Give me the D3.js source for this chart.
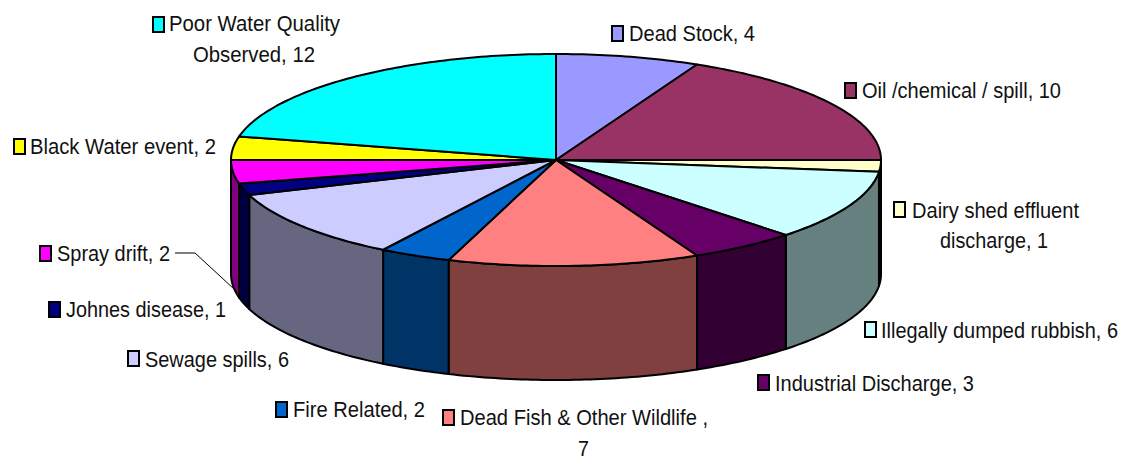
<!DOCTYPE html>
<html>
<head>
<meta charset="utf-8">
<script src="https://cdn.jsdelivr.net/npm/d3@7"></script>
<style>
  html, body { margin: 0; padding: 0; background: #fff; overflow: hidden; }
  text { font-family: "Liberation Sans", Arial, sans-serif; font-size: 22px; fill: #111; }
</style>
</head>
<body>
<div id="chart"></div>
<script>
var categories = ["Dead Stock", "Oil /chemical / spill", "Dairy shed effluent discharge",
  "Illegally dumped rubbish", "Industrial Discharge", "Dead Fish & Other Wildlife ",
  "Fire Related", "Sewage spills", "Johnes disease", "Spray drift", "Black Water event",
  "Poor Water Quality Observed"];
var values = [4, 10, 1, 6, 3, 7, 2, 6, 1, 2, 2, 12];
var topColors = ["#9999ff", "#993366", "#ffffcc", "#ccffff", "#660066", "#ff8080",
  "#0066cc", "#ccccff", "#000080", "#ff00ff", "#ffff00", "#00ffff"];
var sideColors = ["#4d4d80", "#4d1a33", "#808066", "#668080", "#330033", "#804040",
  "#003366", "#666680", "#000040", "#800080", "#808000", "#008080"];

// where each label goes: swatch left / top, then one entry per line [x, baseline, width]
var labelLayout = [
  { sx: 611, sy: 25, lines: [[629, 41, 126]] },
  { sx: 844, sy: 82, lines: [[862, 98, 199]] },
  { sx: 893, sy: 201, lines: [[912, 218, 167], [940, 248, 108]] },
  { sx: 864, sy: 321, lines: [[881, 338, 237]] },
  { sx: 757, sy: 374, lines: [[775, 391, 199]] },
  { sx: 442, sy: 409, lines: [[460, 425, 248], [578, 456, 11]] },
  { sx: 275, sy: 401, lines: [[293, 417, 132]] },
  { sx: 127, sy: 350, lines: [[145, 367, 144]] },
  { sx: 48, sy: 301, lines: [[66, 317, 160]] },
  { sx: 39, sy: 245, lines: [[57, 261, 113]] },
  { sx: 13, sy: 138, lines: [[30, 154, 186]] },
  { sx: 152, sy: 16, lines: [[169, 31, 171], [193, 62, 122]] }
];
// manual line breaks, same wrap as the original labels
var wrapAt = { 2: "Dairy shed effluent", 5: "Dead Fish & Other Wildlife ,", 11: "Poor Water Quality" };

function init() {
  var w = 1127;
  var h = 458;
  var cx = 556, cy = 160, rx = 325, ry = 106, depth = 114;

  var svg = d3.select("#chart")
      .append("svg")
      .attr("width", w)
      .attr("height", h)
      .style("display", "block");

  var pie = d3.pie().sort(null).value(function(d) { return d; });
  var slices = pie(values);

  function px(a) { return cx + rx * Math.sin(a); }
  function py(a) { return cy - ry * Math.cos(a); }

  // sample an arc between two angles
  function arcAngles(a0, a1) {
    var n = Math.max(2, Math.ceil((a1 - a0) * 60));
    return d3.range(n + 1).map(function(i) { return a0 + (a1 - a0) * i / n; });
  }

  var line = d3.line();

  // side walls: only the part of the rim facing us (90deg to 270deg)
  svg.selectAll("path.side")
    .data(slices.filter(function(d) {
      return d.endAngle > Math.PI / 2 && d.startAngle < Math.PI * 1.5;
    }))
    .enter()
    .append("path")
    .attr("class", "side")
    .attr("fill", function(d) { return sideColors[d.index]; })
    .attr("stroke", "#000")
    .attr("stroke-width", 2)
    .attr("stroke-linejoin", "round")
    .attr("d", function(d) {
      var a0 = Math.max(d.startAngle, Math.PI / 2);
      var a1 = Math.min(d.endAngle, Math.PI * 1.5);
      var ang = arcAngles(a0, a1);
      var upper = ang.map(function(a) { return [px(a), py(a)]; });
      var lower = ang.slice().reverse().map(function(a) { return [px(a), py(a) + depth]; });
      return line(upper.concat(lower)) + "Z";
    });

  // top face
  svg.selectAll("path.top")
    .data(slices)
    .enter()
    .append("path")
    .attr("class", "top")
    .attr("fill", function(d) { return topColors[d.index]; })
    .attr("stroke", "#000")
    .attr("stroke-width", 2)
    .attr("stroke-linejoin", "round")
    .attr("d", function(d) {
      var pts = arcAngles(d.startAngle, d.endAngle).map(function(a) { return [px(a), py(a)]; });
      return line([[cx, cy]].concat(pts)) + "Z";
    });

  // leader line for Spray drift
  var sprayAngle = slices[9].startAngle + 0.35 * (slices[9].endAngle - slices[9].startAngle);
  svg.append("path")
    .attr("fill", "none")
    .attr("stroke", "#000")
    .attr("stroke-width", 1)
    .attr("d", line([[175, 253], [195, 253], [px(sprayAngle), py(sprayAngle) + depth]]));

  // labels
  var labels = svg.selectAll("g.label")
    .data(categories)
    .enter()
    .append("g")
    .attr("class", "label");

  labels.append("rect")
    .attr("x", function(d, i) { return labelLayout[i].sx + 1; })
    .attr("y", function(d, i) { return labelLayout[i].sy + 1; })
    .attr("width", 11)
    .attr("height", 15)
    .attr("fill", function(d, i) { return topColors[i]; })
    .attr("stroke", "#000")
    .attr("stroke-width", 2);

  labels.each(function(d, i) {
    var full = d + ", " + values[i];
    var rows = [full];
    if (wrapAt[i]) {
      var first = wrapAt[i];
      var rest = i === 5 ? String(values[i]) : full.slice(first.length + 1);
      rows = [first, rest];
    }
    d3.select(this).selectAll("text")
      .data(rows)
      .enter()
      .append("text")
      .attr("x", function(r, k) { return labelLayout[i].lines[k][0]; })
      .attr("y", function(r, k) { return labelLayout[i].lines[k][1]; })
      .attr("textLength", function(r, k) { return labelLayout[i].lines[k][2]; })
      .attr("lengthAdjust", "spacingAndGlyphs")
      .text(function(r) { return r; });
  });
}

window.onload = init;
</script>
</body>
</html>
